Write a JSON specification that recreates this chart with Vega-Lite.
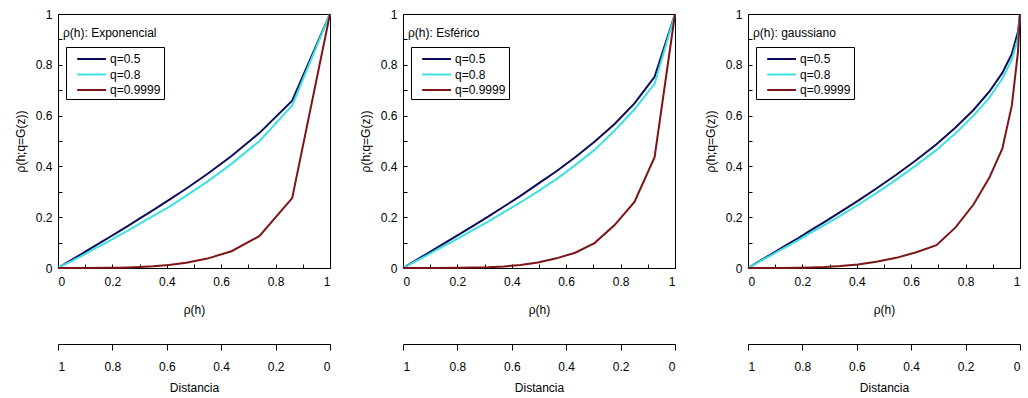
{
  "$schema": "https://vega.github.io/schema/vega-lite/v6.json",
  "background": "white",
  "padding": {"left": 13, "top": 7, "right": 2, "bottom": 2},
  "config": {
    "font": "Liberation Sans",
    "view": {"stroke": "black", "strokeWidth": 1},
    "axis": {
      "grid": false,
      "domainColor": "black",
      "tickColor": "black",
      "labelColor": "black",
      "titleColor": "black",
      "labelFont": "Liberation Sans",
      "titleFont": "Liberation Sans",
      "labelFontSize": 12,
      "titleFontSize": 12,
      "titleFontWeight": "normal"
    },
    "legend": {
      "labelFont": "Liberation Sans",
      "labelFontSize": 12,
      "labelColor": "black"
    },
    "title": {"font": "Liberation Sans", "fontSize": 12, "fontWeight": "normal", "color": "black"}
  },
  "datasets": {
    "curves": [
      {"model": "Exponencial", "q": "q=0.5", "rho": 1, "rhoI": 1},
      {"model": "Exponencial", "q": "q=0.5", "rho": 0.861, "rhoI": 0.659},
      {"model": "Exponencial", "q": "q=0.5", "rho": 0.741, "rhoI": 0.532},
      {"model": "Exponencial", "q": "q=0.5", "rho": 0.638, "rhoI": 0.441},
      {"model": "Exponencial", "q": "q=0.5", "rho": 0.549, "rhoI": 0.370},
      {"model": "Exponencial", "q": "q=0.5", "rho": 0.472, "rhoI": 0.313},
      {"model": "Exponencial", "q": "q=0.5", "rho": 0.407, "rhoI": 0.267},
      {"model": "Exponencial", "q": "q=0.5", "rho": 0.350, "rhoI": 0.228},
      {"model": "Exponencial", "q": "q=0.5", "rho": 0.301, "rhoI": 0.195},
      {"model": "Exponencial", "q": "q=0.5", "rho": 0.259, "rhoI": 0.167},
      {"model": "Exponencial", "q": "q=0.5", "rho": 0.223, "rhoI": 0.143},
      {"model": "Exponencial", "q": "q=0.5", "rho": 0.192, "rhoI": 0.123},
      {"model": "Exponencial", "q": "q=0.5", "rho": 0.165, "rhoI": 0.106},
      {"model": "Exponencial", "q": "q=0.5", "rho": 0.142, "rhoI": 0.091},
      {"model": "Exponencial", "q": "q=0.5", "rho": 0.122, "rhoI": 0.078},
      {"model": "Exponencial", "q": "q=0.5", "rho": 0.105, "rhoI": 0.067},
      {"model": "Exponencial", "q": "q=0.5", "rho": 0.091, "rhoI": 0.058},
      {"model": "Exponencial", "q": "q=0.5", "rho": 0.078, "rhoI": 0.050},
      {"model": "Exponencial", "q": "q=0.5", "rho": 0.067, "rhoI": 0.043},
      {"model": "Exponencial", "q": "q=0.5", "rho": 0.050, "rhoI": 0.032},
      {"model": "Exponencial", "q": "q=0.5", "rho": 0.025, "rhoI": 0.016},
      {"model": "Exponencial", "q": "q=0.5", "rho": 0, "rhoI": 0},
      {"model": "Exponencial", "q": "q=0.8", "rho": 1, "rhoI": 1},
      {"model": "Exponencial", "q": "q=0.8", "rho": 0.861, "rhoI": 0.640},
      {"model": "Exponencial", "q": "q=0.8", "rho": 0.741, "rhoI": 0.500},
      {"model": "Exponencial", "q": "q=0.8", "rho": 0.638, "rhoI": 0.410},
      {"model": "Exponencial", "q": "q=0.8", "rho": 0.549, "rhoI": 0.340},
      {"model": "Exponencial", "q": "q=0.8", "rho": 0.472, "rhoI": 0.285},
      {"model": "Exponencial", "q": "q=0.8", "rho": 0.407, "rhoI": 0.240},
      {"model": "Exponencial", "q": "q=0.8", "rho": 0.350, "rhoI": 0.205},
      {"model": "Exponencial", "q": "q=0.8", "rho": 0.301, "rhoI": 0.175},
      {"model": "Exponencial", "q": "q=0.8", "rho": 0.259, "rhoI": 0.148},
      {"model": "Exponencial", "q": "q=0.8", "rho": 0.223, "rhoI": 0.127},
      {"model": "Exponencial", "q": "q=0.8", "rho": 0.192, "rhoI": 0.109},
      {"model": "Exponencial", "q": "q=0.8", "rho": 0.165, "rhoI": 0.093},
      {"model": "Exponencial", "q": "q=0.8", "rho": 0.142, "rhoI": 0.080},
      {"model": "Exponencial", "q": "q=0.8", "rho": 0.122, "rhoI": 0.068},
      {"model": "Exponencial", "q": "q=0.8", "rho": 0.105, "rhoI": 0.058},
      {"model": "Exponencial", "q": "q=0.8", "rho": 0.091, "rhoI": 0.050},
      {"model": "Exponencial", "q": "q=0.8", "rho": 0.078, "rhoI": 0.043},
      {"model": "Exponencial", "q": "q=0.8", "rho": 0.067, "rhoI": 0.037},
      {"model": "Exponencial", "q": "q=0.8", "rho": 0.050, "rhoI": 0.027},
      {"model": "Exponencial", "q": "q=0.8", "rho": 0.025, "rhoI": 0.014},
      {"model": "Exponencial", "q": "q=0.8", "rho": 0, "rhoI": 0},
      {"model": "Exponencial", "q": "q=0.9999", "rho": 1, "rhoI": 1},
      {"model": "Exponencial", "q": "q=0.9999", "rho": 0.861, "rhoI": 0.275},
      {"model": "Exponencial", "q": "q=0.9999", "rho": 0.741, "rhoI": 0.126},
      {"model": "Exponencial", "q": "q=0.9999", "rho": 0.638, "rhoI": 0.066},
      {"model": "Exponencial", "q": "q=0.9999", "rho": 0.549, "rhoI": 0.037},
      {"model": "Exponencial", "q": "q=0.9999", "rho": 0.472, "rhoI": 0.021},
      {"model": "Exponencial", "q": "q=0.9999", "rho": 0.407, "rhoI": 0.012},
      {"model": "Exponencial", "q": "q=0.9999", "rho": 0.350, "rhoI": 0.007},
      {"model": "Exponencial", "q": "q=0.9999", "rho": 0.301, "rhoI": 0.004},
      {"model": "Exponencial", "q": "q=0.9999", "rho": 0.259, "rhoI": 0.002},
      {"model": "Exponencial", "q": "q=0.9999", "rho": 0.223, "rhoI": 0.001},
      {"model": "Exponencial", "q": "q=0.9999", "rho": 0.192, "rhoI": 0.0005},
      {"model": "Exponencial", "q": "q=0.9999", "rho": 0.105, "rhoI": 0},
      {"model": "Exponencial", "q": "q=0.9999", "rho": 0, "rhoI": 0},

      {"model": "Esférico", "q": "q=0.5", "rho": 1, "rhoI": 1},
      {"model": "Esférico", "q": "q=0.5", "rho": 0.925, "rhoI": 0.753},
      {"model": "Esférico", "q": "q=0.5", "rho": 0.851, "rhoI": 0.648},
      {"model": "Esférico", "q": "q=0.5", "rho": 0.777, "rhoI": 0.566},
      {"model": "Esférico", "q": "q=0.5", "rho": 0.704, "rhoI": 0.497},
      {"model": "Esférico", "q": "q=0.5", "rho": 0.633, "rhoI": 0.436},
      {"model": "Esférico", "q": "q=0.5", "rho": 0.564, "rhoI": 0.381},
      {"model": "Esférico", "q": "q=0.5", "rho": 0.496, "rhoI": 0.331},
      {"model": "Esférico", "q": "q=0.5", "rho": 0.432, "rhoI": 0.284},
      {"model": "Esférico", "q": "q=0.5", "rho": 0.371, "rhoI": 0.242},
      {"model": "Esférico", "q": "q=0.5", "rho": 0.313, "rhoI": 0.202},
      {"model": "Esférico", "q": "q=0.5", "rho": 0.258, "rhoI": 0.166},
      {"model": "Esférico", "q": "q=0.5", "rho": 0.208, "rhoI": 0.133},
      {"model": "Esférico", "q": "q=0.5", "rho": 0.162, "rhoI": 0.104},
      {"model": "Esférico", "q": "q=0.5", "rho": 0.122, "rhoI": 0.078},
      {"model": "Esférico", "q": "q=0.5", "rho": 0.086, "rhoI": 0.055},
      {"model": "Esférico", "q": "q=0.5", "rho": 0.056, "rhoI": 0.036},
      {"model": "Esférico", "q": "q=0.5", "rho": 0.032, "rhoI": 0.020},
      {"model": "Esférico", "q": "q=0.5", "rho": 0.015, "rhoI": 0.009},
      {"model": "Esférico", "q": "q=0.5", "rho": 0.004, "rhoI": 0.002},
      {"model": "Esférico", "q": "q=0.5", "rho": 0, "rhoI": 0},
      {"model": "Esférico", "q": "q=0.8", "rho": 1, "rhoI": 1},
      {"model": "Esférico", "q": "q=0.8", "rho": 0.925, "rhoI": 0.725},
      {"model": "Esférico", "q": "q=0.8", "rho": 0.851, "rhoI": 0.625},
      {"model": "Esférico", "q": "q=0.8", "rho": 0.777, "rhoI": 0.540},
      {"model": "Esférico", "q": "q=0.8", "rho": 0.704, "rhoI": 0.465},
      {"model": "Esférico", "q": "q=0.8", "rho": 0.633, "rhoI": 0.405},
      {"model": "Esférico", "q": "q=0.8", "rho": 0.564, "rhoI": 0.350},
      {"model": "Esférico", "q": "q=0.8", "rho": 0.496, "rhoI": 0.302},
      {"model": "Esférico", "q": "q=0.8", "rho": 0.432, "rhoI": 0.258},
      {"model": "Esférico", "q": "q=0.8", "rho": 0.371, "rhoI": 0.220},
      {"model": "Esférico", "q": "q=0.8", "rho": 0.313, "rhoI": 0.183},
      {"model": "Esférico", "q": "q=0.8", "rho": 0.258, "rhoI": 0.150},
      {"model": "Esférico", "q": "q=0.8", "rho": 0.208, "rhoI": 0.120},
      {"model": "Esférico", "q": "q=0.8", "rho": 0.162, "rhoI": 0.093},
      {"model": "Esférico", "q": "q=0.8", "rho": 0.122, "rhoI": 0.070},
      {"model": "Esférico", "q": "q=0.8", "rho": 0.086, "rhoI": 0.049},
      {"model": "Esférico", "q": "q=0.8", "rho": 0.056, "rhoI": 0.032},
      {"model": "Esférico", "q": "q=0.8", "rho": 0.032, "rhoI": 0.018},
      {"model": "Esférico", "q": "q=0.8", "rho": 0.015, "rhoI": 0.008},
      {"model": "Esférico", "q": "q=0.8", "rho": 0.004, "rhoI": 0.002},
      {"model": "Esférico", "q": "q=0.8", "rho": 0, "rhoI": 0},
      {"model": "Esférico", "q": "q=0.9999", "rho": 1, "rhoI": 1},
      {"model": "Esférico", "q": "q=0.9999", "rho": 0.925, "rhoI": 0.436},
      {"model": "Esférico", "q": "q=0.9999", "rho": 0.851, "rhoI": 0.260},
      {"model": "Esférico", "q": "q=0.9999", "rho": 0.777, "rhoI": 0.168},
      {"model": "Esférico", "q": "q=0.9999", "rho": 0.704, "rhoI": 0.098},
      {"model": "Esférico", "q": "q=0.9999", "rho": 0.633, "rhoI": 0.060},
      {"model": "Esférico", "q": "q=0.9999", "rho": 0.564, "rhoI": 0.038},
      {"model": "Esférico", "q": "q=0.9999", "rho": 0.496, "rhoI": 0.022},
      {"model": "Esférico", "q": "q=0.9999", "rho": 0.432, "rhoI": 0.012},
      {"model": "Esférico", "q": "q=0.9999", "rho": 0.371, "rhoI": 0.006},
      {"model": "Esférico", "q": "q=0.9999", "rho": 0.313, "rhoI": 0.003},
      {"model": "Esférico", "q": "q=0.9999", "rho": 0.258, "rhoI": 0.0015},
      {"model": "Esférico", "q": "q=0.9999", "rho": 0.208, "rhoI": 0.0007},
      {"model": "Esférico", "q": "q=0.9999", "rho": 0.122, "rhoI": 0},
      {"model": "Esférico", "q": "q=0.9999", "rho": 0, "rhoI": 0},

      {"model": "gaussiano", "q": "q=0.5", "rho": 1, "rhoI": 1},
      {"model": "gaussiano", "q": "q=0.5", "rho": 0.9925, "rhoI": 0.93},
      {"model": "gaussiano", "q": "q=0.5", "rho": 0.970, "rhoI": 0.843},
      {"model": "gaussiano", "q": "q=0.5", "rho": 0.935, "rhoI": 0.768},
      {"model": "gaussiano", "q": "q=0.5", "rho": 0.887, "rhoI": 0.694},
      {"model": "gaussiano", "q": "q=0.5", "rho": 0.829, "rhoI": 0.622},
      {"model": "gaussiano", "q": "q=0.5", "rho": 0.763, "rhoI": 0.553},
      {"model": "gaussiano", "q": "q=0.5", "rho": 0.693, "rhoI": 0.487},
      {"model": "gaussiano", "q": "q=0.5", "rho": 0.619, "rhoI": 0.425},
      {"model": "gaussiano", "q": "q=0.5", "rho": 0.545, "rhoI": 0.367},
      {"model": "gaussiano", "q": "q=0.5", "rho": 0.472, "rhoI": 0.313},
      {"model": "gaussiano", "q": "q=0.5", "rho": 0.404, "rhoI": 0.264},
      {"model": "gaussiano", "q": "q=0.5", "rho": 0.340, "rhoI": 0.221},
      {"model": "gaussiano", "q": "q=0.5", "rho": 0.282, "rhoI": 0.182},
      {"model": "gaussiano", "q": "q=0.5", "rho": 0.230, "rhoI": 0.148},
      {"model": "gaussiano", "q": "q=0.5", "rho": 0.185, "rhoI": 0.118},
      {"model": "gaussiano", "q": "q=0.5", "rho": 0.147, "rhoI": 0.094},
      {"model": "gaussiano", "q": "q=0.5", "rho": 0.115, "rhoI": 0.073},
      {"model": "gaussiano", "q": "q=0.5", "rho": 0.088, "rhoI": 0.056},
      {"model": "gaussiano", "q": "q=0.5", "rho": 0.067, "rhoI": 0.043},
      {"model": "gaussiano", "q": "q=0.5", "rho": 0.050, "rhoI": 0.032},
      {"model": "gaussiano", "q": "q=0.5", "rho": 0.027, "rhoI": 0.017},
      {"model": "gaussiano", "q": "q=0.5", "rho": 0.013, "rhoI": 0.008},
      {"model": "gaussiano", "q": "q=0.5", "rho": 0, "rhoI": 0},
      {"model": "gaussiano", "q": "q=0.8", "rho": 1, "rhoI": 1},
      {"model": "gaussiano", "q": "q=0.8", "rho": 0.9925, "rhoI": 0.905},
      {"model": "gaussiano", "q": "q=0.8", "rho": 0.970, "rhoI": 0.820},
      {"model": "gaussiano", "q": "q=0.8", "rho": 0.935, "rhoI": 0.745},
      {"model": "gaussiano", "q": "q=0.8", "rho": 0.887, "rhoI": 0.670},
      {"model": "gaussiano", "q": "q=0.8", "rho": 0.829, "rhoI": 0.600},
      {"model": "gaussiano", "q": "q=0.8", "rho": 0.763, "rhoI": 0.530},
      {"model": "gaussiano", "q": "q=0.8", "rho": 0.693, "rhoI": 0.465},
      {"model": "gaussiano", "q": "q=0.8", "rho": 0.619, "rhoI": 0.405},
      {"model": "gaussiano", "q": "q=0.8", "rho": 0.545, "rhoI": 0.348},
      {"model": "gaussiano", "q": "q=0.8", "rho": 0.472, "rhoI": 0.295},
      {"model": "gaussiano", "q": "q=0.8", "rho": 0.404, "rhoI": 0.248},
      {"model": "gaussiano", "q": "q=0.8", "rho": 0.340, "rhoI": 0.206},
      {"model": "gaussiano", "q": "q=0.8", "rho": 0.282, "rhoI": 0.170},
      {"model": "gaussiano", "q": "q=0.8", "rho": 0.230, "rhoI": 0.138},
      {"model": "gaussiano", "q": "q=0.8", "rho": 0.185, "rhoI": 0.110},
      {"model": "gaussiano", "q": "q=0.8", "rho": 0.147, "rhoI": 0.087},
      {"model": "gaussiano", "q": "q=0.8", "rho": 0.115, "rhoI": 0.068},
      {"model": "gaussiano", "q": "q=0.8", "rho": 0.088, "rhoI": 0.052},
      {"model": "gaussiano", "q": "q=0.8", "rho": 0.067, "rhoI": 0.040},
      {"model": "gaussiano", "q": "q=0.8", "rho": 0.050, "rhoI": 0.030},
      {"model": "gaussiano", "q": "q=0.8", "rho": 0.027, "rhoI": 0.016},
      {"model": "gaussiano", "q": "q=0.8", "rho": 0.013, "rhoI": 0.008},
      {"model": "gaussiano", "q": "q=0.8", "rho": 0, "rhoI": 0},
      {"model": "gaussiano", "q": "q=0.9999", "rho": 1, "rhoI": 1},
      {"model": "gaussiano", "q": "q=0.9999", "rho": 0.9925, "rhoI": 0.85},
      {"model": "gaussiano", "q": "q=0.9999", "rho": 0.970, "rhoI": 0.64},
      {"model": "gaussiano", "q": "q=0.9999", "rho": 0.935, "rhoI": 0.47},
      {"model": "gaussiano", "q": "q=0.9999", "rho": 0.887, "rhoI": 0.355},
      {"model": "gaussiano", "q": "q=0.9999", "rho": 0.829, "rhoI": 0.25},
      {"model": "gaussiano", "q": "q=0.9999", "rho": 0.763, "rhoI": 0.16},
      {"model": "gaussiano", "q": "q=0.9999", "rho": 0.693, "rhoI": 0.09},
      {"model": "gaussiano", "q": "q=0.9999", "rho": 0.619, "rhoI": 0.062},
      {"model": "gaussiano", "q": "q=0.9999", "rho": 0.545, "rhoI": 0.040},
      {"model": "gaussiano", "q": "q=0.9999", "rho": 0.472, "rhoI": 0.025},
      {"model": "gaussiano", "q": "q=0.9999", "rho": 0.404, "rhoI": 0.014},
      {"model": "gaussiano", "q": "q=0.9999", "rho": 0.340, "rhoI": 0.008},
      {"model": "gaussiano", "q": "q=0.9999", "rho": 0.282, "rhoI": 0.004},
      {"model": "gaussiano", "q": "q=0.9999", "rho": 0.230, "rhoI": 0.002},
      {"model": "gaussiano", "q": "q=0.9999", "rho": 0.185, "rhoI": 0.001},
      {"model": "gaussiano", "q": "q=0.9999", "rho": 0.115, "rhoI": 0},
      {"model": "gaussiano", "q": "q=0.9999", "rho": 0, "rhoI": 0}
    ],
    "dist": [{"d": 0}, {"d": 1}]
  },
  "columns": 3,
  "bounds": "flush",
  "spacing": {"column": 73, "row": 75},
  "resolve": {"scale": {"color": "independent"}, "legend": {"color": "independent"}},
  "concat": [
    {
      "width": 272, "height": 254,
      "title": {"text": "ρ(h): Exponencial", "anchor": "start", "frame": "group", "offset": -32, "dx": 5},
      "data": {"name": "curves"},
      "transform": [{"filter": "datum.model == 'Exponencial'"}],
      "mark": {"type": "line", "strokeWidth": 2},
      "encoding": {
        "x": {"field": "rho", "type": "quantitative", "scale": {"domain": [0, 1], "nice": false},
              "axis": {"title": "ρ(h)", "values": [0,0.1,0.2,0.3,0.4,0.5,0.6,0.7,0.8,0.9,1], "labelExpr": "round(datum.value*10)%2==0 ? format(datum.value, '.1~f') : ''", "tickSize": -4, "labelPadding": 12, "titlePadding": 17}},
        "y": {"field": "rhoI", "type": "quantitative", "scale": {"domain": [0, 1], "nice": false},
              "axis": {"title": "ρ(h;q=G(z))", "values": [0,0.1,0.2,0.3,0.4,0.5,0.6,0.7,0.8,0.9,1], "labelExpr": "round(datum.value*10)%2==0 ? format(datum.value, '.1~f') : ''", "tickSize": -4, "labelPadding": 10, "titlePadding": 8}},
        "color": {"field": "q", "type": "nominal",
                  "scale": {"domain": ["q=0.5", "q=0.8", "q=0.9999"], "range": ["#0c0c5c", "#3ee0e0", "#7c1418"]},
                  "legend": {"title": null, "orient": "none", "legendX": 8, "legendY": 33, "strokeColor": "black", "padding": 3, "symbolType": "M-0.1,0H3.5", "symbolSize": 256, "symbolStrokeWidth": 2, "rowPadding": 0.5, "labelOffset": 23}}
      }
    },
    {
      "width": 272, "height": 254,
      "title": {"text": "ρ(h): Esférico", "anchor": "start", "frame": "group", "offset": -32, "dx": 5},
      "data": {"name": "curves"},
      "transform": [{"filter": "datum.model == 'Esférico'"}],
      "mark": {"type": "line", "strokeWidth": 2},
      "encoding": {
        "x": {"field": "rho", "type": "quantitative", "scale": {"domain": [0, 1], "nice": false},
              "axis": {"title": "ρ(h)", "values": [0,0.1,0.2,0.3,0.4,0.5,0.6,0.7,0.8,0.9,1], "labelExpr": "round(datum.value*10)%2==0 ? format(datum.value, '.1~f') : ''", "tickSize": -4, "labelPadding": 12, "titlePadding": 17}},
        "y": {"field": "rhoI", "type": "quantitative", "scale": {"domain": [0, 1], "nice": false},
              "axis": {"title": "ρ(h;q=G(z))", "values": [0,0.1,0.2,0.3,0.4,0.5,0.6,0.7,0.8,0.9,1], "labelExpr": "round(datum.value*10)%2==0 ? format(datum.value, '.1~f') : ''", "tickSize": -4, "labelPadding": 10, "titlePadding": 8}},
        "color": {"field": "q", "type": "nominal",
                  "scale": {"domain": ["q=0.5", "q=0.8", "q=0.9999"], "range": ["#0c0c5c", "#3ee0e0", "#7c1418"]},
                  "legend": {"title": null, "orient": "none", "legendX": 8, "legendY": 33, "strokeColor": "black", "padding": 3, "symbolType": "M-0.1,0H3.5", "symbolSize": 256, "symbolStrokeWidth": 2, "rowPadding": 0.5, "labelOffset": 23}}
      }
    },
    {
      "width": 272, "height": 254,
      "title": {"text": "ρ(h): gaussiano", "anchor": "start", "frame": "group", "offset": -32, "dx": 5},
      "data": {"name": "curves"},
      "transform": [{"filter": "datum.model == 'gaussiano'"}],
      "mark": {"type": "line", "strokeWidth": 2},
      "encoding": {
        "x": {"field": "rho", "type": "quantitative", "scale": {"domain": [0, 1], "nice": false},
              "axis": {"title": "ρ(h)", "values": [0,0.1,0.2,0.3,0.4,0.5,0.6,0.7,0.8,0.9,1], "labelExpr": "round(datum.value*10)%2==0 ? format(datum.value, '.1~f') : ''", "tickSize": -4, "labelPadding": 12, "titlePadding": 17}},
        "y": {"field": "rhoI", "type": "quantitative", "scale": {"domain": [0, 1], "nice": false},
              "axis": {"title": "ρ(h;q=G(z))", "values": [0,0.1,0.2,0.3,0.4,0.5,0.6,0.7,0.8,0.9,1], "labelExpr": "round(datum.value*10)%2==0 ? format(datum.value, '.1~f') : ''", "tickSize": -4, "labelPadding": 10, "titlePadding": 8}},
        "color": {"field": "q", "type": "nominal",
                  "scale": {"domain": ["q=0.5", "q=0.8", "q=0.9999"], "range": ["#0c0c5c", "#3ee0e0", "#7c1418"]},
                  "legend": {"title": null, "orient": "none", "legendX": 8, "legendY": 33, "strokeColor": "black", "padding": 3, "symbolType": "M-0.1,0H3.5", "symbolSize": 256, "symbolStrokeWidth": 2, "rowPadding": 0.5, "labelOffset": 23}}
      }
    },
    {
      "width": 272, "height": 1,
      "view": {"stroke": null},
      "data": {"name": "dist"},
      "mark": {"type": "point", "opacity": 0},
      "encoding": {"x": {"field": "d", "type": "quantitative", "scale": {"domain": [0, 1], "nice": false, "reverse": true},
        "axis": {"orient": "bottom", "title": "Distancia", "values": [0,0.2,0.4,0.6,0.8,1], "format": ".1~f", "tickSize": 6, "labelPadding": 11, "titlePadding": 10}}}
    },
    {
      "width": 272, "height": 1,
      "view": {"stroke": null},
      "data": {"name": "dist"},
      "mark": {"type": "point", "opacity": 0},
      "encoding": {"x": {"field": "d", "type": "quantitative", "scale": {"domain": [0, 1], "nice": false, "reverse": true},
        "axis": {"orient": "bottom", "title": "Distancia", "values": [0,0.2,0.4,0.6,0.8,1], "format": ".1~f", "tickSize": 6, "labelPadding": 11, "titlePadding": 10}}}
    },
    {
      "width": 272, "height": 1,
      "view": {"stroke": null},
      "data": {"name": "dist"},
      "mark": {"type": "point", "opacity": 0},
      "encoding": {"x": {"field": "d", "type": "quantitative", "scale": {"domain": [0, 1], "nice": false, "reverse": true},
        "axis": {"orient": "bottom", "title": "Distancia", "values": [0,0.2,0.4,0.6,0.8,1], "format": ".1~f", "tickSize": 6, "labelPadding": 11, "titlePadding": 10}}}
    }
  ]
}
